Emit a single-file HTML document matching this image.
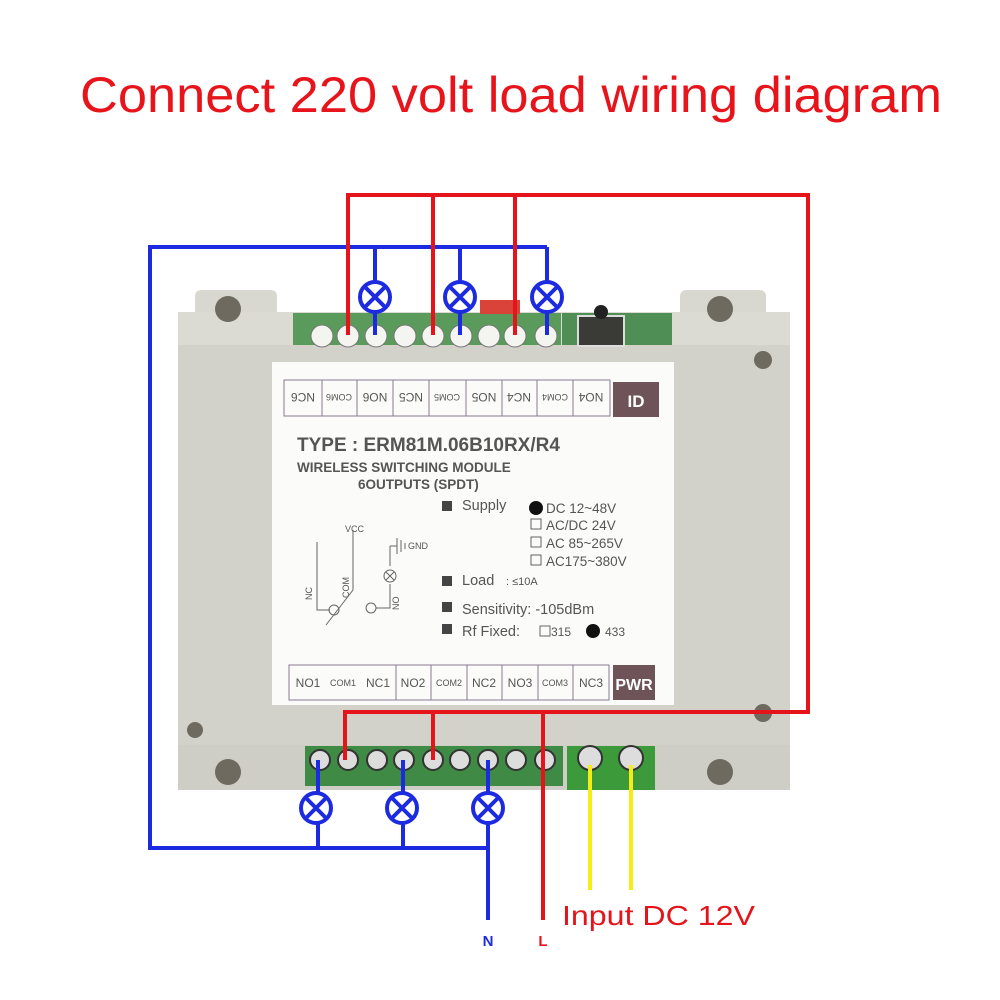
<!DOCTYPE html>
<html><head><meta charset="utf-8"><style>
html,body{margin:0;padding:0;background:#fff}
svg{display:block}
text{font-family:"Liberation Sans",sans-serif}
</style></head><body>
<svg width="1000" height="1000" viewBox="0 0 1000 1000" xmlns="http://www.w3.org/2000/svg">
<rect width="1000" height="1000" fill="#fff"/>
<text x="80" y="112" font-size="50" fill="#e8141b" textLength="862" lengthAdjust="spacingAndGlyphs">Connect 220 volt load wiring diagram</text>

<!-- enclosure -->
<rect x="195" y="290" width="82" height="470" rx="6" fill="#d9d8d0"/>
<rect x="680" y="290" width="86" height="470" rx="6" fill="#d9d8d0"/>
<rect x="178" y="312" width="612" height="440" fill="#dcdbd3"/>
<rect x="178" y="345" width="612" height="400" fill="#d3d2ca"/>
<rect x="178" y="745" width="612" height="45" fill="#cfcec6"/>
<circle cx="228" cy="309" r="13" fill="#6e6a60"/>
<circle cx="720" cy="309" r="13" fill="#6e6a60"/>
<circle cx="228" cy="772" r="13" fill="#6e6a60"/>
<circle cx="720" cy="772" r="13" fill="#6e6a60"/>
<circle cx="763" cy="360" r="9" fill="#6e6a60"/>
<circle cx="763" cy="713" r="9" fill="#6e6a60"/>
<circle cx="195" cy="730" r="8" fill="#6e6a60"/>

<!-- top terminal strip -->
<rect x="293" y="313" width="268" height="32" fill="#5a9a5a"/>
<rect x="562" y="313" width="110" height="32" fill="#4f8f55"/>
<rect x="578" y="316" width="46" height="30" fill="#3a3a36" stroke="#ddd" stroke-width="2"/>
<circle cx="601" cy="312" r="7" fill="#222"/>
<rect x="480" y="300" width="40" height="14" fill="#d9433a"/>
<g fill="#f4f4f0" stroke="#777" stroke-width="1">
<circle cx="322" cy="336" r="11"/><circle cx="348" cy="336" r="11"/><circle cx="376" cy="336" r="11"/>
<circle cx="405" cy="336" r="11"/><circle cx="433" cy="336" r="11"/><circle cx="461" cy="336" r="11"/>
<circle cx="489" cy="336" r="11"/><circle cx="515" cy="336" r="11"/><circle cx="546" cy="336" r="11"/>
</g>

<!-- label panel -->
<rect x="272" y="362" width="402" height="343" fill="#fbfbf9"/>
<g stroke="#8a7a90" stroke-width="1" fill="none">
<rect x="284" y="380" width="326" height="36"/>
<line x1="322" y1="380" x2="322" y2="416"/><line x1="357" y1="380" x2="357" y2="416"/>
<line x1="393" y1="380" x2="393" y2="416"/><line x1="429" y1="380" x2="429" y2="416"/>
<line x1="466" y1="380" x2="466" y2="416"/><line x1="502" y1="380" x2="502" y2="416"/>
<line x1="537" y1="380" x2="537" y2="416"/><line x1="573" y1="380" x2="573" y2="416"/>
<rect x="289" y="665" width="320" height="35"/>
<line x1="396" y1="665" x2="396" y2="700"/><line x1="431" y1="665" x2="431" y2="700"/>
<line x1="467" y1="665" x2="467" y2="700"/><line x1="502" y1="665" x2="502" y2="700"/>
<line x1="538" y1="665" x2="538" y2="700"/><line x1="573" y1="665" x2="573" y2="700"/>
</g>
<rect x="613" y="382" width="46" height="35" fill="#6e5358"/>
<text x="636" y="407" text-anchor="middle" font-size="17" fill="#fff" font-weight="bold">ID</text>
<rect x="613" y="665" width="42" height="35" fill="#6e5358"/>
<text x="634" y="690" text-anchor="middle" font-size="16" fill="#fff" font-weight="bold">PWR</text>
<g font-size="12" fill="#555" text-anchor="middle">
<g transform="rotate(180 303 398)"><text x="303" y="403">NC6</text></g>
<g transform="rotate(180 339 398)"><text x="339" y="402" font-size="9">COM6</text></g>
<g transform="rotate(180 375 398)"><text x="375" y="403">NO6</text></g>
<g transform="rotate(180 411 398)"><text x="411" y="403">NC5</text></g>
<g transform="rotate(180 447 398)"><text x="447" y="402" font-size="9">COM5</text></g>
<g transform="rotate(180 484 398)"><text x="484" y="403">NO5</text></g>
<g transform="rotate(180 519 398)"><text x="519" y="403">NC4</text></g>
<g transform="rotate(180 555 398)"><text x="555" y="402" font-size="9">COM4</text></g>
<g transform="rotate(180 591 398)"><text x="591" y="403">NO4</text></g>
<text x="308" y="687">NO1</text><text x="343" y="686" font-size="9">COM1</text><text x="378" y="687">NC1</text>
<text x="413" y="687">NO2</text><text x="449" y="686" font-size="9">COM2</text><text x="484" y="687">NC2</text>
<text x="520" y="687">NO3</text><text x="555" y="686" font-size="9">COM3</text><text x="591" y="687">NC3</text>
</g>
<g fill="#555">
<text x="297" y="451" font-size="19" font-weight="bold">TYPE : ERM81M.06B10RX/R4</text>
<text x="297" y="472" font-size="13.5" font-weight="bold">WIRELESS SWITCHING MODULE</text>
<text x="358" y="489" font-size="13.5" font-weight="bold">6OUTPUTS (SPDT)</text>
<g font-size="14.5"><text x="462" y="510">Supply</text><text x="462" y="585">Load</text>
<text x="462" y="614">Sensitivity: -105dBm</text><text x="462" y="636">Rf Fixed:</text></g>
<text x="506" y="585" font-size="11">: ≤10A</text>
<g font-size="13.5"><text x="546" y="513">DC 12~48V</text><text x="546" y="530">AC/DC 24V</text>
<text x="546" y="548">AC 85~265V</text><text x="546" y="566">AC175~380V</text></g>
<text x="551" y="636" font-size="12">315</text><text x="605" y="636" font-size="12">433</text>
<rect x="442" y="501" width="10" height="10" fill="#444"/><rect x="442" y="576" width="10" height="10" fill="#444"/>
<rect x="442" y="602" width="10" height="10" fill="#444"/><rect x="442" y="624" width="10" height="10" fill="#444"/>
<circle cx="536" cy="508" r="7" fill="#111"/><circle cx="593" cy="631" r="7" fill="#111"/>
</g>
<g fill="none" stroke="#666" stroke-width="1">
<rect x="531" y="519" width="10" height="10"/><rect x="531" y="537" width="10" height="10"/><rect x="531" y="555" width="10" height="10"/>
<rect x="540" y="626" width="10" height="10"/>
<path d="M317 542 V610 L330 610 M353 530 V590 L326 625 M390 546 H397 M397 538 V554 M401 540 V552 M405 543 V549 M390 546 V566 M390 584 V608 L376 608"/>
<circle cx="334" cy="610" r="5"/><circle cx="371" cy="608" r="5"/><circle cx="390" cy="576" r="6"/>
<path d="M386 572 L394 580 M394 572 L386 580"/>
</g>
<g font-size="9" fill="#555"><text x="345" y="532">VCC</text><text x="408" y="549">GND</text>
<text transform="translate(312 600) rotate(-90)">NC</text><text transform="translate(349 598) rotate(-90)">COM</text>
<text transform="translate(399 610) rotate(-90)">NO</text></g>

<!-- bottom terminals -->
<rect x="305" y="746" width="258" height="40" fill="#3f8a45"/>
<rect x="567" y="746" width="88" height="44" fill="#3c9a3a"/>
<g fill="#ddd" stroke="#333" stroke-width="2">
<circle cx="320" cy="760" r="10"/><circle cx="348" cy="760" r="10"/><circle cx="377" cy="760" r="10"/>
<circle cx="404" cy="760" r="10"/><circle cx="433" cy="760" r="10"/><circle cx="460" cy="760" r="10"/>
<circle cx="488" cy="760" r="10"/><circle cx="516" cy="760" r="10"/><circle cx="545" cy="760" r="10"/>
<circle cx="590" cy="758" r="12"/><circle cx="631" cy="758" r="12"/>
</g>

<!-- wires -->
<g fill="none" stroke-width="4">
<path stroke="#1c2be0" d="M375 247 H150 V848 H488 V920 M375 247 V335 M460 247 V335 M547 247 H375 M547 247 V335 M318 760 V848 M403 760 V848 M488 760 V848"/>
<path stroke="#e5141b" d="M348 335 V195 H808 V712 H345 V760 M433 195 V335 M515 195 V335 M433 712 V760 M543 712 V920"/>
<path stroke="#f4ee16" d="M590 765 V890 M631 765 V890"/>
</g>
<g fill="#fff" stroke="#1c2be0" stroke-width="4">
<circle cx="375" cy="297" r="15"/><circle cx="460" cy="297" r="15"/><circle cx="547" cy="297" r="15"/>
<circle cx="316" cy="808" r="15"/><circle cx="402" cy="808" r="15"/><circle cx="488" cy="808" r="15"/>
</g>
<g stroke="#1c2be0" stroke-width="4">
<path d="M365 287 L385 307 M385 287 L365 307 M450 287 L470 307 M470 287 L450 307 M537 287 L557 307 M557 287 L537 307"/>
<path d="M306 798 L326 818 M326 798 L306 818 M392 798 L412 818 M412 798 L392 818 M478 798 L498 818 M498 798 L478 818"/>
</g>
<text x="562" y="925" font-size="28" fill="#e5141b" textLength="193" lengthAdjust="spacingAndGlyphs">Input DC 12V</text>
<text x="488" y="946" font-size="15" font-weight="bold" fill="#1c2be0" text-anchor="middle">N</text>
<text x="543" y="946" font-size="15" font-weight="bold" fill="#e5141b" text-anchor="middle">L</text>
</svg>
</body></html>
